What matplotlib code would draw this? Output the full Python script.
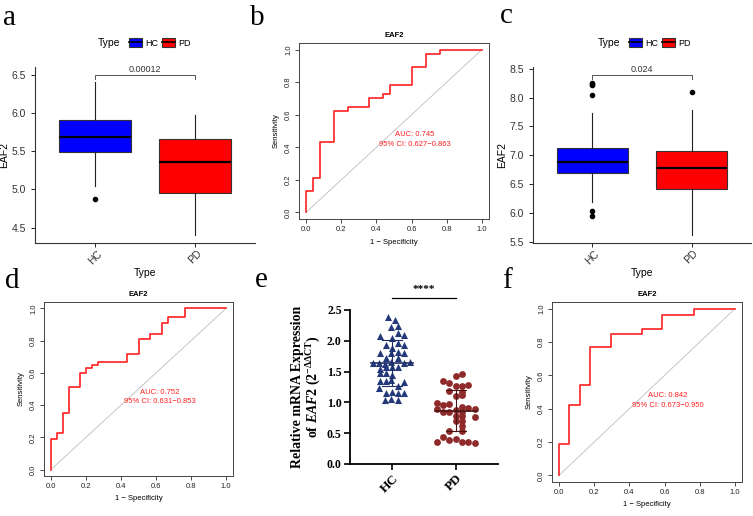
import numpy as np
import matplotlib
matplotlib.use('Agg')
import matplotlib.pyplot as plt
from matplotlib.patches import Patch
from matplotlib.lines import Line2D
from matplotlib.legend_handler import HandlerTuple

plt.rcParams['font.family'] = ['Liberation Sans', 'DejaVu Sans']
plt.rcParams['mathtext.fontset'] = 'custom'
plt.rcParams['mathtext.rm'] = 'Liberation Serif:bold'
plt.rcParams['mathtext.it'] = 'Liberation Serif:bold:italic'
plt.rcParams['mathtext.bf'] = 'Liberation Serif:bold'

################################################################################
###			data
################################################################################

groups = ['HC', 'PD']
box_colors = ['#0000FF', '#FF0000']

# panel a - boxplot stats (q1, median, q3, whiskers, outliers)
a_q1 = [5.49, 4.95]
a_med = [5.68, 5.36]
a_q3 = [5.91, 5.66]
a_lo = [5.05, 4.40]
a_hi = [6.41, 5.97]
a_out = [[4.87], []]
a_p = '0.00012'

# panel c
c_q1 = [6.70, 6.41]
c_med = [6.88, 6.78]
c_q3 = [7.12, 7.08]
c_lo = [6.19, 5.62]
c_hi = [7.73, 7.79]
c_out = [[8.26, 8.24, 8.22, 8.05, 6.03, 5.94], [8.09]]
c_p = '0.024'

# ROC curves: corner points (1 - specificity, sensitivity)
b_fpr = [0, 0, 0.04, 0.08, 0.16, 0.24, 0.36, 0.44, 0.48, 0.60, 0.68, 0.76, 1.0]
b_tpr = [0, 0.13, 0.21, 0.43, 0.62, 0.65, 0.70, 0.73, 0.78, 0.89, 0.97, 1.0, 1.0]
b_auc = ['AUC: 0.745', '95% CI: 0.627\u22120.863']

d_fpr = [0, 0, 0.033, 0.067, 0.10, 0.167, 0.20, 0.233, 0.267, 0.433, 0.50, 0.567, 0.633, 0.667, 0.767, 1.0]
d_tpr = [0, 0.19, 0.23, 0.35, 0.51, 0.60, 0.63, 0.65, 0.67, 0.72, 0.81, 0.84, 0.91, 0.95, 1.0, 1.0]
d_auc = ['AUC: 0.752', '95% CI: 0.631\u22120.853']

f_fpr = [0, 0, 0.059, 0.118, 0.176, 0.294, 0.471, 0.588, 0.765, 1.0]
f_tpr = [0, 0.19, 0.42, 0.54, 0.77, 0.85, 0.88, 0.96, 1.0, 1.0]
f_auc = ['AUC: 0.842', '95% CI: 0.673\u22120.950']

# panel e - qPCR values and their horizontal spread
hc_val = [2.39, 2.34, 2.23, 2.24, 2.08, 2.13, 2.09, 2.04, 1.93, 1.96, 1.93, 1.88,
          1.81, 1.80, 1.82, 1.81, 1.72, 1.72, 1.64, 1.64, 1.63, 1.66, 1.64, 1.66,
          1.55, 1.57, 1.58, 1.57, 1.48, 1.48, 1.44, 1.34, 1.35, 1.36, 1.33, 1.24,
          1.27, 1.15, 1.17, 1.15, 1.16, 1.04, 1.05, 1.04]
hc_off = [-0.06, 0.04, -0.01, 0.09, -0.19, 0.09, 0.19, 0.0, -0.09, 0.10, 0.19, 0.0,
          -0.19, -0.01, 0.09, 0.19, -0.09, 0.09, -0.30, -0.21, -0.11, -0.01, 0.19, 0.28,
          -0.19, -0.09, 0.0, 0.09, -0.19, -0.09, 0.0, -0.19, -0.10, -0.01, 0.19, -0.21,
          0.09, -0.09, 0.0, 0.09, 0.19, -0.11, -0.01, 0.09]
pd_val = [1.43, 1.46, 1.34, 1.32, 1.26, 1.27, 1.28, 1.18, 1.17, 1.10, 1.12,
          0.99, 0.95, 0.97, 0.93, 0.91, 0.89, 0.90, 0.85, 0.85, 0.87, 0.85,
          0.77, 0.78, 0.78, 0.69, 0.70, 0.62, 0.54, 0.54, 0.44,
          0.36, 0.39, 0.40, 0.36, 0.36, 0.34]
pd_off = [0.0, 0.09, -0.20, -0.11, 0.0, 0.09, 0.18, -0.11, 0.09, 0.0, 0.09,
          -0.30, -0.20, -0.11, 0.09, 0.18, 0.29, -0.30, -0.20, -0.11, 0.0, 0.09,
          0.29, 0.0, 0.09, 0.0, 0.09, 0.09, -0.11, 0.09, -0.20,
          -0.30, -0.11, 0.0, 0.09, 0.18, 0.29]

################################################################################
###			figure
################################################################################

W, H = 753, 516
fig = plt.figure(figsize=(W / 100, H / 100), dpi=100)


def px_axes(l, t, r, b):
	return fig.add_axes([l / W, 1 - b / H, (r - l) / W, (b - t) / H])


def box_panel(ax, q1, med, q3, lo, hi, out, p, ylim, yticks):
	stats = []
	for i in range(2):
		stats.append(dict(q1=q1[i], med=med[i], q3=q3[i], whislo=lo[i], whishi=hi[i], fliers=out[i]))
	bp = ax.bxp(stats, positions=[1, 2], widths=0.72, patch_artist=True, showcaps=False,
		boxprops=dict(edgecolor='#333333', linewidth=0.8),
		medianprops=dict(color='black', linewidth=1.6),
		whiskerprops=dict(color='#222222', linewidth=0.8),
		flierprops=dict(marker='o', markerfacecolor='black', markeredgecolor='black', markersize=3))
	for patch, col in zip(bp['boxes'], box_colors):
		patch.set_facecolor(col)
	ax.set_xlim(0.4, 2.6)
	ax.set_ylim(*ylim)
	ax.set_yticks(yticks)
	ax.set_yticklabels(['%.1f' % v for v in yticks])
	ax.set_xticks([1, 2])
	ax.set_xticklabels(groups, rotation=45, ha='center', va='top', fontsize=7.5, color='#333333')
	ax.tick_params(axis='y', labelsize=7.5, labelcolor='#333333', length=3, width=0.6)
	ax.tick_params(axis='x', length=3, width=0.6, pad=1)
	for s in ['top', 'right']:
		ax.spines[s].set_visible(False)
	for s in ['left', 'bottom']:
		ax.spines[s].set_linewidth(0.8)
		ax.spines[s].set_color('#333333')
	ax.set_ylabel('EAF2', fontsize=7.5, labelpad=2)
	ax.set_xlabel('Type', fontsize=7.5, labelpad=1)
	# significance bracket
	top = ylim[1] - (ylim[1] - ylim[0]) * 0.045
	tick = (ylim[1] - ylim[0]) * 0.025
	ax.plot([1, 1, 2, 2], [top - tick, top, top, top - tick], color='#555555', lw=0.7, clip_on=False)
	ax.text(1.5, top + tick * 0.3, p, ha='center', va='bottom', fontsize=6.5, color='#333333')


def legend_panel(x, y):
	fig.text(x / W, 1 - y / H, 'Type', fontsize=7.5, va='center', ha='left')
	handles = [(Patch(facecolor=c, edgecolor='#333333', linewidth=0.8), Line2D([], [], color='black', lw=1.2))
		for c in box_colors]
	fig.legend(handles, groups, handler_map={tuple: HandlerTuple(ndivide=1)}, ncol=2, frameon=False,
		loc='center left', bbox_to_anchor=((x + 31) / W, 1 - y / H), bbox_transform=fig.transFigure,
		fontsize=6.5, handlelength=1.45, handleheight=1.0, handletextpad=0.3, columnspacing=0.5,
		borderpad=0, borderaxespad=0)


def roc_panel(ax, fpr, tpr, auc):
	ax.plot([0, 1], [0, 1], color='#BEBEBE', lw=0.6)
	ax.step(fpr, tpr, where='post', color='#FF2020', lw=1.2)
	ax.set_xlim(-0.04, 1.04)
	ax.set_ylim(-0.04, 1.04)
	ticks = np.arange(0, 1.01, 0.2)
	ax.set_xticks(ticks)
	ax.set_yticks(ticks)
	ax.set_xticklabels(['%.1f' % v for v in ticks])
	ax.set_yticklabels(['%.1f' % v for v in ticks], rotation=90, va='center')
	ax.tick_params(labelsize=5.5, length=3, width=0.5, pad=2, labelcolor='#222222')
	for s in ax.spines.values():
		s.set_linewidth(0.7)
		s.set_color('#444444')
	ax.set_title('EAF2', fontsize=5.5, fontweight='bold', pad=4)
	ax.set_xlabel('1 \u2212 Specificity', fontsize=5.5, labelpad=4)
	ax.set_ylabel('Sensitivity', fontsize=5.5, labelpad=4)
	ax.text(0.62, 0.48, auc[0], ha='center', va='center', fontsize=5.5, color='#FF2020')
	ax.text(0.62, 0.42, auc[1], ha='center', va='center', fontsize=5.5, color='#FF2020')


### a
ax_a = px_axes(35, 67, 255, 243)
box_panel(ax_a, a_q1, a_med, a_q3, a_lo, a_hi, a_out, a_p, (4.30, 6.60), [4.5, 5.0, 5.5, 6.0, 6.5])
legend_panel(98, 43)

### c
ax_c = px_axes(533, 67, 751, 243)
box_panel(ax_c, c_q1, c_med, c_q3, c_lo, c_hi, c_out, c_p, (5.48, 8.53), [5.5, 6.0, 6.5, 7.0, 7.5, 8.0, 8.5])
legend_panel(598, 43)

### b, d, f
roc_panel(px_axes(299, 43, 489, 219), b_fpr, b_tpr, b_auc)
roc_panel(px_axes(44, 302, 233, 476), d_fpr, d_tpr, d_auc)
roc_panel(px_axes(552, 302, 742, 482), f_fpr, f_tpr, f_auc)

### e
serif = ['Liberation Serif', 'DejaVu Serif']
ax_e = px_axes(350, 310, 498, 464)
hc_col, pd_col = '#24397a', '#8e2a2a'
ax_e.scatter(1 + np.array(hc_off), hc_val, marker='^', s=26, color=hc_col, linewidths=0, zorder=3)
ax_e.scatter(2 + np.array(pd_off), pd_val, marker='o', s=24, color=pd_col, linewidths=0, zorder=3)
for x, vals, col in [(1, hc_val, '#1e2f66'), (2, pd_val, '#4a1515')]:
	m = np.mean(vals)
	sd = np.std(vals, ddof=1)
	ax_e.plot([x - 0.33, x + 0.33], [m, m], color=col, lw=1.2, zorder=4)
	ax_e.plot([x, x], [m - sd, m + sd], color=col, lw=0.8, zorder=4)
	ax_e.plot([x - 0.16, x + 0.16], [m + sd, m + sd], color=col, lw=0.8, zorder=4)
	ax_e.plot([x - 0.16, x + 0.16], [m - sd, m - sd], color=col, lw=0.8, zorder=4)
ax_e.set_xlim(0.344, 2.656)
ax_e.set_ylim(0, 2.5)
ax_e.set_yticks([0, 0.5, 1.0, 1.5, 2.0, 2.5])
ax_e.set_yticklabels(['0.0', '0.5', '1.0', '1.5', '2.0', '2.5'], family=serif, fontweight='bold', fontsize=8.5)
ax_e.set_xticks([1, 2])
ax_e.set_xticklabels(groups, family=serif, fontweight='bold', fontsize=9.5, rotation=45, ha='right',
	rotation_mode='anchor')
ax_e.tick_params(length=4, width=1.2, pad=2)
for s in ['top', 'right']:
	ax_e.spines[s].set_visible(False)
for s in ['left', 'bottom']:
	ax_e.spines[s].set_linewidth(1.3)
ax_e.set_ylabel('Relative mRNA Expression\nof $EAF2$ ($\\mathrm{2^{-\\Delta\\Delta CT}}$)', family=serif,
	fontweight='bold', fontsize=10, labelpad=3, linespacing=1.0)
ax_e.plot([1, 2], [2.69, 2.69], color='black', lw=0.9, clip_on=False)
ax_e.text(1.5, 2.76, '****', ha='center', va='bottom', fontsize=8, fontweight='bold', family=serif)

### panel letters
letters = ['a', 'b', 'c', 'd', 'e', 'f']
letter_pos = [(3, 25), (250, 25), (500, 23), (5, 288), (255, 287), (502, 288)]
for t, (x, y) in zip(letters, letter_pos):
	fig.text(x / W, 1 - y / H, t, family=serif, fontsize=21, va='baseline', ha='left')

fig.savefig('out.png', dpi=100)
